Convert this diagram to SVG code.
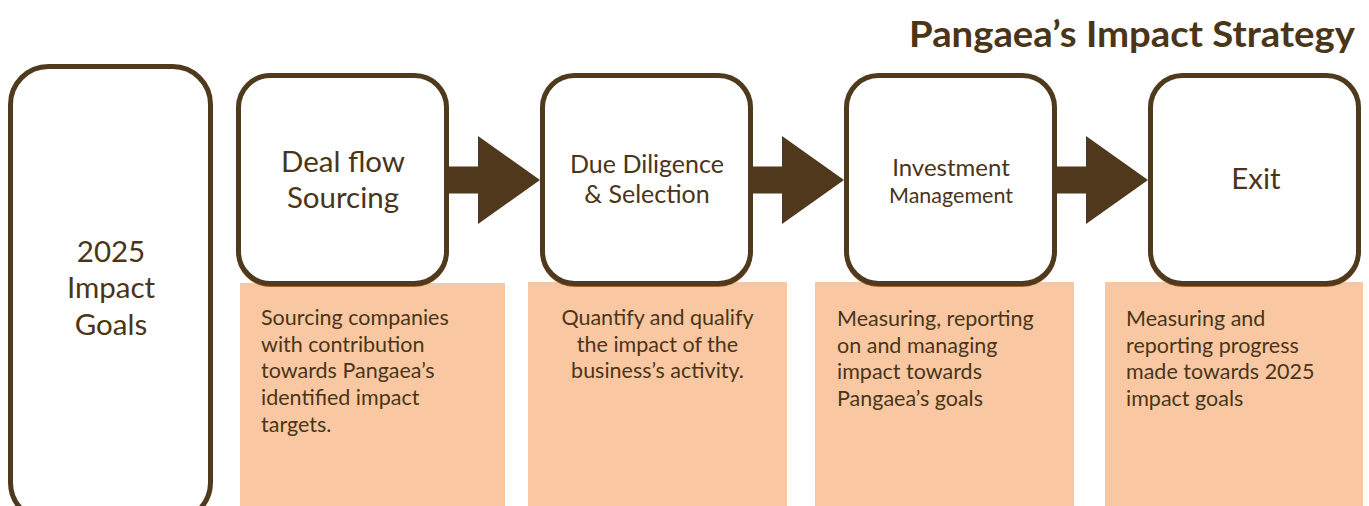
<svg xmlns="http://www.w3.org/2000/svg" width="1369" height="506" viewBox="0 0 1369 506">
  <style>
    .box { fill: #ffffff; stroke: #503a1e; stroke-width: 5; }
    .shadow { fill: none; stroke: #a5622f; stroke-width: 4; }
    .desc { fill: #f9c8a2; }
    .arrow { fill: #4f381c; }
    text { font-family: Lato, "Open Sans", "Liberation Sans", sans-serif; fill: #4a3519; }
    .big { font-size: 29.5px; text-anchor: middle; }
    .mid { font-size: 25px; text-anchor: middle; }
    .small { font-size: 21.5px; }
    .title { font-size: 36px; font-weight: bold; text-anchor: end; }
  </style>
  <rect width="1369" height="506" fill="#ffffff"/>

  <text class="title" x="1355" y="47" textLength="446" lengthAdjust="spacingAndGlyphs">Pangaea’s Impact Strategy</text>

  <g id="goals">
    <rect class="box" x="10.5" y="66.5" width="200" height="454" rx="38" ry="38"/>
    <text class="big" x="111" y="262">2025</text>
    <text class="big" x="111" y="298">Impact</text>
    <text class="big" x="111" y="335">Goals</text>
  </g>

  <g id="connectors">
    <polygon class="arrow" points="449,166.5 478,166.5 478,136 540,180 478,224 478,193.5 449,193.5"/>
    <polygon class="arrow" points="753,166.5 782,166.5 782,136 844,180 782,224 782,193.5 753,193.5"/>
    <polygon class="arrow" points="1057,166.5 1086,166.5 1086,136 1148,180 1086,224 1086,193.5 1057,193.5"/>
  </g>

  <g id="step-sourcing">
    <rect class="desc" x="240" y="283" width="265" height="230"/>
    <rect class="shadow" x="238.5" y="77" width="208" height="208" rx="32" ry="32"/>
    <rect class="box" x="238.5" y="75.5" width="208" height="208" rx="32" ry="32"/>
    <text class="big" x="343" y="172">Deal flow</text>
    <text class="big" x="343" y="208">Sourcing</text>
    <text class="small" x="261" y="325">Sourcing companies</text>
    <text class="small" x="261" y="352">with contribution</text>
    <text class="small" x="261" y="378">towards Pangaea’s</text>
    <text class="small" x="261" y="405">identified impact</text>
    <text class="small" x="261" y="432">targets.</text>
  </g>

  <g id="step-diligence">
    <rect class="desc" x="528" y="282" width="259" height="231"/>
    <rect class="shadow" x="542.5" y="77" width="208" height="208" rx="32" ry="32"/>
    <rect class="box" x="542.5" y="75.5" width="208" height="208" rx="32" ry="32"/>
    <text class="mid" x="647" y="173">Due Diligence</text>
    <text class="mid" x="647" y="203">&amp; Selection</text>
    <text class="small" x="657.5" y="325" text-anchor="middle">Quantify and qualify</text>
    <text class="small" x="657.5" y="352" text-anchor="middle">the impact of the</text>
    <text class="small" x="657.5" y="378" text-anchor="middle">business’s activity.</text>
  </g>

  <g id="step-management">
    <rect class="desc" x="815" y="282" width="259" height="231"/>
    <rect class="shadow" x="846.5" y="77" width="208" height="208" rx="32" ry="32"/>
    <rect class="box" x="846.5" y="75.5" width="208" height="208" rx="32" ry="32"/>
    <text class="mid" x="951" y="176" style="font-size:24px">Investment</text>
    <text class="mid" x="951" y="203" style="font-size:21.5px">Management</text>
    <text class="small" x="837" y="326">Measuring, reporting</text>
    <text class="small" x="837" y="353">on and managing</text>
    <text class="small" x="837" y="379">impact towards</text>
    <text class="small" x="837" y="406">Pangaea’s goals</text>
  </g>

  <g id="step-exit">
    <rect class="desc" x="1105" y="282" width="258" height="231"/>
    <rect class="shadow" x="1150.5" y="77" width="208" height="208" rx="32" ry="32"/>
    <rect class="box" x="1150.5" y="75.5" width="208" height="208" rx="32" ry="32"/>
    <text class="big" x="1256" y="189">Exit</text>
    <text class="small" x="1126" y="326">Measuring and</text>
    <text class="small" x="1126" y="353">reporting progress</text>
    <text class="small" x="1126" y="379">made towards 2025</text>
    <text class="small" x="1126" y="406">impact goals</text>
  </g>
</svg>
